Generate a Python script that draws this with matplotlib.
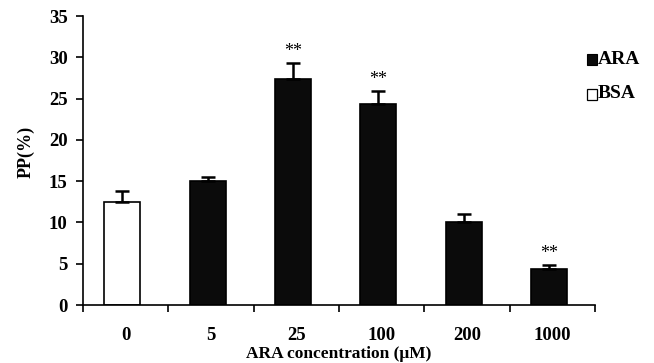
import matplotlib.pyplot as plt
from matplotlib.patches import Rectangle
import numpy as np

# data
concentrations = ['0', '5', '25', '100', '200', '1000']
pp_mean = [12.5, 15.0, 27.4, 24.3, 10.0, 4.4]
pp_err = [1.3, 0.5, 1.9, 1.6, 1.0, 0.4]
group = ['BSA', 'ARA', 'ARA', 'ARA', 'ARA', 'ARA']
significant = [False, False, True, True, False, True]

plt.rcParams['font.family'] = ['Liberation Serif', 'DejaVu Serif']
plt.rcParams['font.weight'] = 'bold'

W, H = 654, 363
fig = plt.figure(figsize=(W / 100, H / 100), dpi=100)
ax = fig.add_axes([83 / W, 1 - 305 / H, 512 / W, 289 / H])

x = np.arange(len(concentrations))
colors = ['white' if g == 'BSA' else '#0b0b0b' for g in group]
ax.bar(x - 0.04, pp_mean, width=0.42, color=colors, edgecolor='black', linewidth=1.2)
ax.errorbar(x - 0.04, pp_mean, yerr=[np.zeros(len(pp_err)), pp_err], fmt='none',
            ecolor='black', elinewidth=1.8, capsize=5, capthick=1.8)

# significance marks
for xi, m, e, s in zip(x, pp_mean, pp_err, significant):
    if s:
        ax.text(xi - 0.04, m + e + 0.4, '**', ha='center', va='bottom',
                fontsize=13, fontweight='normal')

ax.set_xlim(-0.5, len(concentrations) - 0.5)
ax.set_ylim(0, 35)
ax.set_yticks(range(0, 36, 5))
ax.set_xticks(x)
ax.set_xticklabels(concentrations, fontsize=13.5, fontweight='bold')
ax.set_xticks(np.arange(-0.5, len(concentrations)), minor=True)
ax.tick_params(axis='x', which='major', length=0, pad=16)
ax.tick_params(axis='x', which='minor', length=5, width=1.2, direction='out')
ax.tick_params(axis='y', length=5, width=1.2, direction='out', labelsize=13.5, pad=6)
for lab in ax.get_yticklabels():
    lab.set_fontweight('bold')

ax.spines['top'].set_visible(False)
ax.spines['right'].set_visible(False)
ax.spines['left'].set_linewidth(1.2)
ax.spines['bottom'].set_linewidth(1.2)

ax.set_ylabel('PP(%)', fontsize=13, fontweight='bold')
ax.yaxis.set_label_coords(-0.095, 0.53)
ax.set_xlabel('ARA concentration (μM)', fontsize=12.5, fontweight='bold', labelpad=1)

# legend
fig.add_artist(Rectangle((587 / W, 1 - 65 / H), 10 / W, 11 / H, transform=fig.transFigure,
                         facecolor='#0b0b0b', edgecolor='black', linewidth=0.8))
fig.text(598 / W, 1 - 59 / H, 'ARA', fontsize=14, va='center', ha='left', fontweight='bold')
fig.add_artist(Rectangle((587 / W, 1 - 100 / H), 10 / W, 11 / H, transform=fig.transFigure,
                         facecolor='white', edgecolor='black', linewidth=0.9))
fig.text(598 / W, 1 - 94 / H, 'BSA', fontsize=14, va='center', ha='left', fontweight='bold')

fig.savefig('out.png', dpi=100)
